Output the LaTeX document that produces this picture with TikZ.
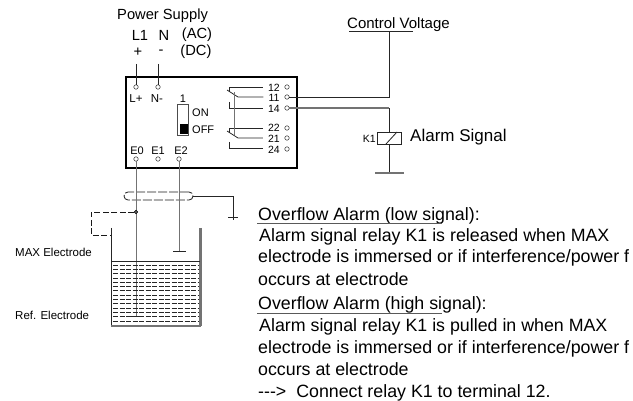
\documentclass[tikz,border=0pt]{standalone}
\usepackage{fontspec}
\setmainfont{Liberation Sans}
\newcommand{\fbig}{\fontsize{14.7}{16}\selectfont}
\newcommand{\ftext}{\fontsize{17.8}{20}\selectfont}
\newcommand{\fmid}{\fontsize{11.5}{13}\selectfont}
\newcommand{\fsmall}{\fontsize{11}{12}\selectfont}
\tikzset{
	term/.style={circle,draw,inner sep=0pt,minimum size=4.5pt,fill=white},
	lab/.style={inner sep=0pt},
	num/.style={inner xsep=5pt,inner ysep=0pt,font=\fontsize{10.5}{10.5}\selectfont},
	line1/.style={anchor=base west,inner sep=0pt,font=\ftext},
	wire/.style={draw=black!85,line width=0.8pt},
	greywire/.style={draw=black!55,line width=1.2pt},
	shield/.style={draw=black!90,line width=0.8pt,dash pattern=on 9pt off 2pt},
	hatch/.style={draw=black!85,line width=0.7pt,dash pattern=on 5pt off 1.5pt},
}
\begin{document}
\begin{tikzpicture}[x=1pt,y=-1pt]
\useasboundingbox (0,0) rectangle (633,401);

\node[lab,font=\fbig,anchor=west] (ps) at (117,16) {Power Supply};
\node[lab,font=\fbig] (l1) at (140,35) {L1};
\node[lab,font=\fbig] (n) at (164,35) {N};
\node[lab,font=\fbig] (ac) at (197,35) {(AC)};
\node[lab,font=\fbig] (plus) at (138,52) {+};
\node[lab,font=\fbig] (minus) at (161,52) {-};
\node[lab,font=\fbig] (dc) at (196,52) {(DC)};

\node[draw,line width=1.5pt,minimum width=171pt,minimum height=91pt,inner sep=0pt] (box) at (211.5,122.5) {};

\node[term] (tl) at (136,87) {};
\node[term] (tn) at (158,87) {};
\node[lab,font=\fmid] (ll) at (136,99) {L+};
\node[lab,font=\fmid] (ln) at (157,99) {N-};
\coordinate (pl) at (136,64);
\coordinate (pn) at (158,64);
\draw[wire] (pl) -- (tl) (pn) -- (tn);

\node[lab,font=\fsmall] (sw1) at (183,99) {1};
\node[draw=black!70,line width=0.9pt,minimum width=11pt,minimum height=31pt,inner sep=0pt] (sw) at (182.5,119.5) {};
\node[fill=black,minimum width=8pt,minimum height=10pt,inner sep=0pt] (knob) at (184,129) {};
\node[lab,font=\fsmall,anchor=west] (on) at (192,113) {ON};
\node[lab,font=\fsmall,anchor=west] (off) at (192,129.5) {OFF};

\node[num] (l12) at (274,87.5) {12};
\node[num] (l11) at (274,98) {11};
\node[num] (l14) at (274,109) {14};
\node[num] (l22) at (274,128) {22};
\node[num] (l21) at (274,139) {21};
\node[num] (l24) at (274,149.5) {24};
\node[term] (t12) at (287,87) {};
\node[term] (t11) at (287,97) {};
\node[term] (t14) at (287,108) {};
\node[term] (t22) at (287,128) {};
\node[term] (t21) at (287,138) {};
\node[term] (t24) at (287,149) {};

\coordinate (c12) at (229,87);
\coordinate (m12) at (229,92);
\coordinate (a11) at (227,90);
\coordinate (c11) at (238,97);
\coordinate (c14) at (229,108);
\coordinate (u14) at (229,102);
\coordinate (c22) at (229,128);
\coordinate (m22) at (229,133);
\coordinate (a21) at (227,131);
\coordinate (c21) at (238,138);
\coordinate (c24) at (229,148);
\coordinate (u24) at (229,142);
\coordinate (k1) at (234,92);
\coordinate (k2) at (234,135);
\draw[wire] (l12.west |- c12) -- (c12) -- (m12);
\draw[wire] (a11) -- (c11) -- (l11.west |- c11);
\draw[wire] (u14) -- (c14) -- (l14.west |- c14);
\draw[wire] (l22.west |- c22) -- (c22) -- (m22);
\draw[wire] (a21) -- (c21) -- (l21.west |- c21);
\draw[wire] (u24) -- (c24) -- (l24.west |- c24);
\draw[draw=black!55,line width=0.9pt] (k1) -- (k2);

\node[lab,anchor=base west,font=\fontsize{15}{16}\selectfont] (cv) at (347,29) {Control Voltage};
\coordinate (cvl) at (349,31);
\coordinate (cvr) at (413,31);
\coordinate (cvm) at (389,31);
\coordinate (j11) at (389,97);
\coordinate (j14) at (389,108);
\draw[wire] (cvl) -- (cvr);
\draw[wire] (t11) -- (j11) -- (cvm);
\draw[greywire] (t14) -- (j14);

\node[draw=black!85,line width=0.8pt,minimum width=24pt,minimum height=12pt,inner sep=0pt] (coil) at (389,138) {};
\coordinate (d1) at (386,144);
\coordinate (d2) at (397,132);
\coordinate (g1) at (389,173);
\coordinate (g2) at (375,173);
\coordinate (g3) at (404,173);
\draw[wire] (d1) -- (d2);
\draw[wire] (j14) -- (coil) -- (g1);
\draw[greywire] (g2) -- (g3);
\node[lab,font=\fontsize{10.5}{11}\selectfont,anchor=east] (k) at (376,139) {K1};
\node[lab,font=\fontsize{17}{18}\selectfont,anchor=west] (as) at (410,137) {Alarm Signal};

\node[lab,font=\fsmall] (e0) at (137,151) {E0};
\node[lab,font=\fsmall] (e1) at (158,151) {E1};
\node[lab,font=\fsmall] (e2) at (181,151) {E2};
\node[term] (t0) at (136,159) {};
\node[term] (t1) at (158,159) {};
\node[term] (t2) at (179,159) {};

\node[shield,rounded corners=4pt,minimum width=69pt,minimum height=8pt,inner sep=0pt] (cable) at (158.5,196) {};
\coordinate (s1) at (233,196);
\coordinate (s2) at (233,220);
\coordinate (s3) at (228,217);
\coordinate (s4) at (238,217);
\draw[wire] (cable) -- (s1) -- (s2);
\draw[wire] (s3) -- (s4);

\coordinate (e0end) at (136,316);
\coordinate (e2end) at (179,251);
\coordinate (b1) at (173,251);
\coordinate (b2) at (186,251);
\coordinate (r1) at (130,316);
\coordinate (r2) at (143,316);
\draw[greywire,line width=1pt] (t0) -- (e0end);
\draw[greywire,line width=1pt] (t2) -- (e2end);
\draw[wire] (b1) -- (b2);
\draw[wire] (r1) -- (r2);

\node[circle,draw,fill=black!60,inner sep=0pt,minimum size=3.5pt] (dot) at (136,212) {};
\coordinate (h1) at (91,212);
\coordinate (h2) at (91,235);
\coordinate (h3) at (110,235);
\draw[shield,dash pattern=on 6pt off 2.5pt] (dot) -- (h1) -- (h2) -- (h3);

\coordinate (wl) at (111,228);
\coordinate (wb) at (111,326);
\coordinate (wr) at (200.5,326);
\coordinate (wt) at (200.5,228);
\draw[wire] (wl) -- (wb);
\draw[draw=black!55,line width=1.8pt] (wb) -- (wr);
\draw[draw=black!55,line width=2.2pt] (wt) -- (wr);
\coordinate (f1) at (112,261);
\coordinate (f2) at (200,261);
\draw[wire] (f1) -- (f2);
\foreach \y in {265,269.3,273.6,277.9,282.2,286.5,290.8,295.1,299.4,303.7,308,312.3,316.6,320.9}
	\draw[hatch] (113,\y) -- (199,\y);

\node[lab,font=\fmid,anchor=west] (max) at (15,252) {MAX Electrode};
\node[lab,font=\fmid,anchor=west] (ref) at (15,315) {Ref. Electrode};

\node[line1] (t1a) at (258,221) {Overflow Alarm (low signal):};
\node[line1] (t1b) at (259,242) {Alarm signal relay K1 is released when MAX};
\node[line1] (t1c) at (258,263) {electrode is immersed or if interference/power f};
\node[line1] (t1d) at (258,286) {occurs at electrode};
\node[line1] (t2a) at (258,310) {Overflow Alarm (high signal):};
\node[line1] (t2b) at (259,332) {Alarm signal relay K1 is pulled in when MAX};
\node[line1] (t2c) at (258,354) {electrode is immersed or if interference/power f};
\node[line1] (t2d) at (258,376) {occurs at electrode};
\node[line1] (t2e) at (258,397) {{-}{-}{-}>\ \ Connect relay K1 to terminal 12.};
\coordinate (u1) at (257,224);
\coordinate (u2) at (442,224);
\coordinate (u3) at (257,314);
\coordinate (u4) at (442,314);
\draw[draw=black!65,line width=1pt] (u1) -- (u2) (u3) -- (u4);

\end{tikzpicture}
\end{document}
